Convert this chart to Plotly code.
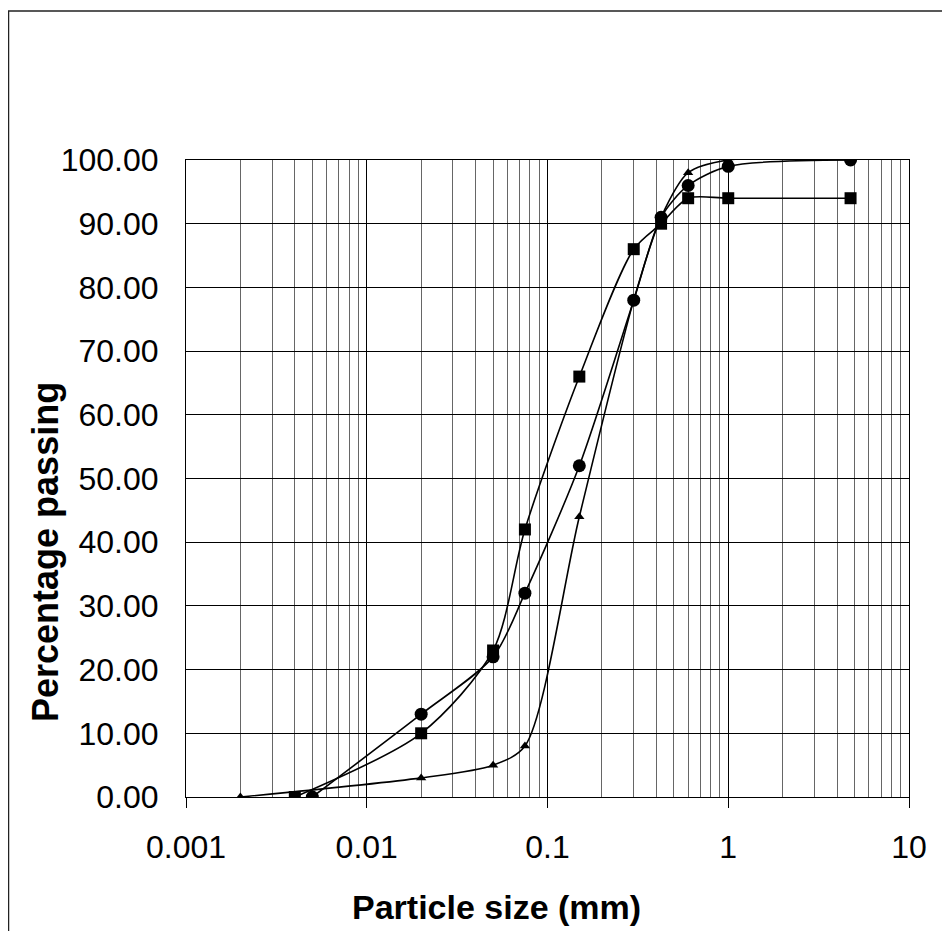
import plotly.graph_objects as go

# Particle sizes (mm) and percentage passing for three samples
size_circle = [0.005, 0.02, 0.05, 0.075, 0.15, 0.3, 0.425, 0.6, 1.0, 4.75]
pass_circle = [0, 13, 22, 32, 52, 78, 91, 96, 99, 100]

size_square = [0.004, 0.02, 0.05, 0.075, 0.15, 0.3, 0.425, 0.6, 1.0, 4.75]
pass_square = [0, 10, 23, 42, 66, 86, 90, 94, 94, 94]

size_triangle = [0.002, 0.02, 0.05, 0.075, 0.15, 0.3, 0.425, 0.6, 1.0, 4.75]
pass_triangle = [0, 3, 5, 8, 44, 78, 91, 98, 100, 100]

x_tick_vals = [0.001, 0.01, 0.1, 1, 10]
x_tick_text = ["0.001", "0.01", "0.1", "1", "10"]
y_tick_vals = [0, 10, 20, 30, 40, 50, 60, 70, 80, 90, 100]

x_title = "Particle size (mm)"
y_title = "Percentage passing"

FONT = "Liberation Sans, Arial, sans-serif"

# figure geometry (page body has an 8px margin)
W, H = 934, 923
L, R, T, B = 178, 33, 152, 134
PW, PH = W - L - R, H - T - B

fig = go.Figure()

series = [
    (size_triangle, pass_triangle, "triangle-up", 9, "Triangle"),
    (size_square, pass_square, "square", 12, "Square"),
    (size_circle, pass_circle, "circle", 13, "Circle"),
]
for xs, ys, sym, ms, name in series:
    fig.add_trace(go.Scatter(
        x=xs, y=ys, mode="lines+markers", name=name,
        line=dict(color="black", width=1.6, shape="spline", smoothing=0.8),
        marker=dict(symbol=sym, size=ms, color="black"),
        showlegend=False,
    ))

minor_vals = [m * 10 ** e for e in range(-3, 1) for m in range(2, 10)]

fig.update_xaxes(
    type="log", range=[-3, 1],
    tickvals=x_tick_vals, ticktext=x_tick_text,
    ticks="outside", ticklen=10, tickcolor="black", tickwidth=1,
    ticklabelstandoff=12,
    showgrid=True, gridcolor="black", gridwidth=1,
    minor=dict(tickvals=minor_vals, showgrid=True, gridcolor="#666666", gridwidth=1, ticks=""),
    showline=True, linecolor="black", linewidth=1, mirror=True,
    tickfont=dict(family=FONT, size=32, color="black"),
    zeroline=False,
)
fig.update_yaxes(
    range=[0, 100], tickvals=y_tick_vals, tickformat=".2f",
    ticks="", ticklabelstandoff=20,
    showgrid=True, gridcolor="black", gridwidth=1,
    showline=True, linecolor="black", linewidth=1, mirror=True,
    tickfont=dict(family=FONT, size=32, color="black"),
    zeroline=False,
)

# axis titles placed as in the reference
fig.add_annotation(text="<b>%s</b>" % x_title, xref="paper", yref="paper",
                   x=(488 - L) / PW, y=(T + PH - 899) / PH,
                   xanchor="center", yanchor="middle", showarrow=False,
                   font=dict(family=FONT, size=34, color="black"))
fig.add_annotation(text="<b>%s</b>" % y_title, xref="paper", yref="paper",
                   x=(37 - L) / PW, y=(T + PH - 544) / PH, textangle=-90,
                   xanchor="center", yanchor="middle", showarrow=False,
                   font=dict(family=FONT, size=36, color="black"))

# outer chart border
fig.add_shape(type="rect", xref="paper", yref="paper",
              x0=(0.5 - L) / PW, x1=(980 - L) / PW,
              y0=(T + PH - 980) / PH, y1=(T + PH - 3) / PH,
              line=dict(color="#222222", width=1.5), layer="below")

fig.update_layout(
    width=W, height=H,
    margin=dict(l=L, r=R, t=T, b=B, autoexpand=False),
    plot_bgcolor="white", paper_bgcolor="white",
    font=dict(family=FONT, color="black"),
)

fig.write_html("out.html")
